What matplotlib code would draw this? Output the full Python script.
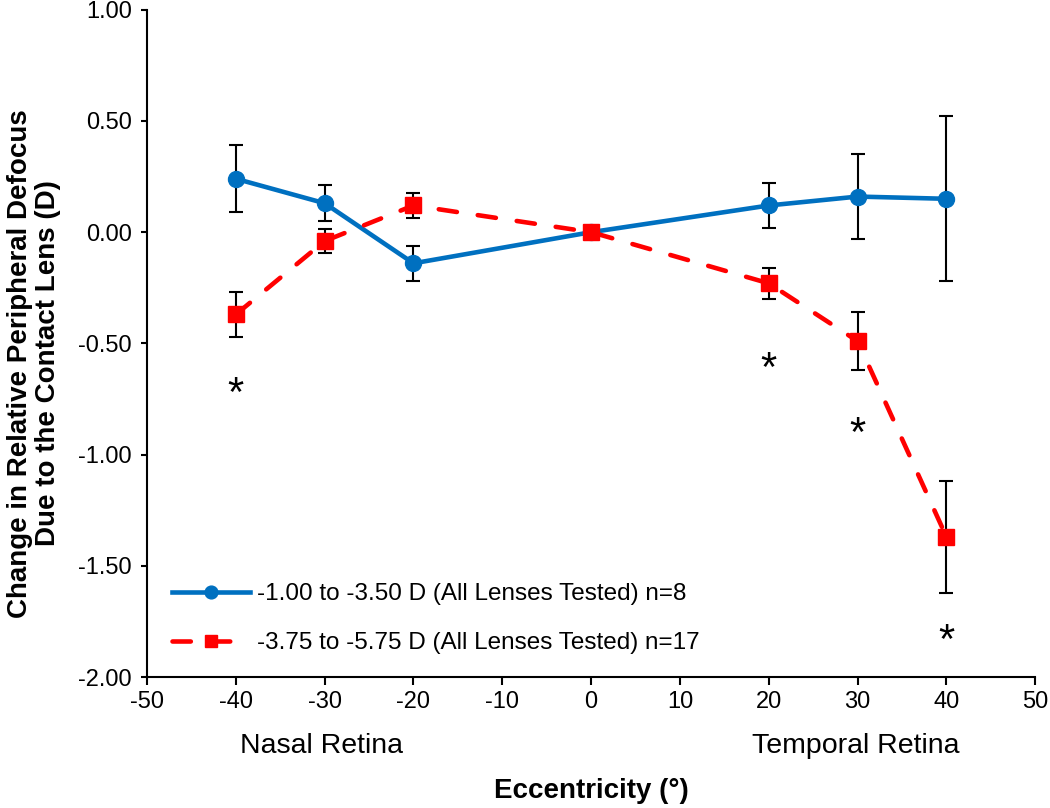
import matplotlib.pyplot as plt
import numpy as np

plt.rcParams['font.family'] = ['Liberation Sans', 'DejaVu Sans']
plt.rcParams['axes.unicode_minus'] = False

# Data
ecc = [-40, -30, -20, 0, 20, 30, 40]
low_mean = [0.24, 0.13, -0.14, 0.00, 0.12, 0.16, 0.15]
low_err = [0.15, 0.08, 0.08, 0.00, 0.10, 0.19, 0.37]
high_mean = [-0.37, -0.04, 0.12, 0.00, -0.23, -0.49, -1.37]
high_err = [0.10, 0.055, 0.055, 0.00, 0.07, 0.13, 0.25]
star_x = [-40, 20, 30, 40]
star_y = [-0.73, -0.62, -0.91, -1.84]
low_label = '-1.00 to -3.50 D (All Lenses Tested) n=8'
high_label = '-3.75 to -5.75 D (All Lenses Tested) n=17'

fig = plt.figure(figsize=(10.5, 8.08), dpi=100)
ax = fig.add_axes((0.14, 0.162, 0.846, 0.826))

blue = '#0070C0'
red = '#FF0000'

# error bars first, black
for m, e in [(low_mean, low_err), (high_mean, high_err)]:
    ax.errorbar(ecc, m, yerr=e, fmt='none', ecolor='black',
                elinewidth=1.5, capsize=5, capthick=1.5, zorder=2)

ax.plot(ecc, low_mean, '-o', color=blue, lw=3.3, ms=11.5, label=low_label, zorder=3)
ln, = ax.plot(ecc, high_mean, '--s', color=red, lw=3.3, ms=11.5, label=high_label,
              zorder=4, dash_capstyle='round')
ln.set_dashes((4.0, 4.6))

for sx, sy in zip(star_x, star_y):
    ax.text(sx, sy, '*', ha='center', va='center', fontsize=30)

ax.set_xlim(-50, 50)
ax.set_ylim(-2.0, 1.0)
ax.set_xticks(np.arange(-50, 51, 10))
ax.set_yticks(np.arange(-2.0, 1.01, 0.5))
ax.yaxis.set_major_formatter(plt.FuncFormatter(lambda v, p: f'{v:.2f}'))
ax.tick_params(labelsize=17, direction='out', width=1.5)
ax.tick_params(axis='x', length=6, pad=4)
ax.tick_params(axis='y', length=4, pad=7)
for s in ['top', 'right']:
    ax.spines[s].set_visible(False)
for s in ['left', 'bottom']:
    ax.spines[s].set_linewidth(1.5)

ax.set_ylabel('Change in Relative Peripheral Defocus\nDue to the Contact Lens (D)',
              fontsize=20, fontweight='bold', linespacing=1.1)
ax.yaxis.set_label_coords(-0.097, 0.47)
ax.set_xlabel('Eccentricity (°)', fontsize=20, fontweight='bold', labelpad=47)

ax.text(-30.3, -2.308, 'Nasal Retina', ha='center', va='center', fontsize=20.5)
ax.text(29.8, -2.308, 'Temporal Retina', ha='center', va='center', fontsize=20.5)

ax.legend(loc='lower left', bbox_to_anchor=(0.017, 0.02), borderaxespad=0,
          frameon=False, fontsize=17.5, handlelength=3.2, labelspacing=1.1,
          handletextpad=0.3, markerscale=0.8)

fig.savefig('out.png', dpi=100)
plt.close()
